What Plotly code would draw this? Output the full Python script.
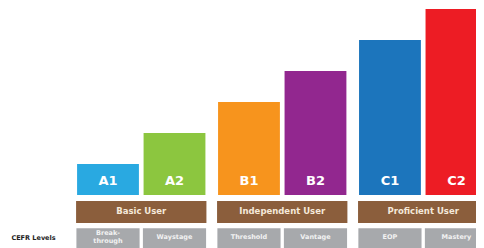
import plotly.graph_objects as go

levels = ["A1", "A2", "B1", "B2", "C1", "C2"]
values = [1, 2, 3, 4, 5, 6]
bar_colors = ["#29A9E1", "#8CC63F", "#F7941D", "#92278F", "#1C75BC", "#ED1C24"]
groups = ["Basic User", "Independent User", "Proficient User"]
stages = ["Break-<br>through", "Waystage", "Threshold", "Vantage", "EOP", "Mastery"]
axis_title = "CEFR Levels"

GAP = 0.12
xs = [i + (i // 2) * GAP for i in range(len(levels))]
gx = [(xs[2 * g] + xs[2 * g + 1]) / 2 for g in range(len(groups))]

# page body has an 8px margin; shift the visible window accordingly
OFF = 8
PX_X = 66.5
PX_Y = 31.0

fig = go.Figure()
fig.add_trace(go.Bar(x=xs, y=values, width=0.93, marker=dict(color=bar_colors, line=dict(width=0)),
                     hoverinfo="skip"))
fig.add_trace(go.Bar(x=gx, y=[0.71] * len(groups), base=-0.9, width=1.96,
                     marker=dict(color="#8B5E3C", line=dict(width=0)), hoverinfo="skip"))
fig.add_trace(go.Bar(x=xs, y=[0.75] * len(levels), base=-1.82, width=0.95,
                     marker=dict(color="#A7A9AC", line=dict(width=0)), hoverinfo="skip"))
fig.add_trace(go.Scatter(x=xs, y=[0.42] * len(levels), mode="text", text=levels,
                         textfont=dict(family="DejaVu Sans", size=13, color="white", weight="bold"),
                         hoverinfo="skip"))
fig.add_trace(go.Scatter(x=gx, y=[-0.55] * len(groups), mode="text", text=groups,
                         textfont=dict(family="DejaVu Sans", size=8.5, color="#F5E9DA", weight="bold"),
                         hoverinfo="skip"))
fig.add_trace(go.Scatter(x=xs, y=[-1.37] * len(levels), mode="text", text=stages,
                         textfont=dict(family="DejaVu Sans", size=6.5, color="#F2F2F2", weight="bold"),
                         hoverinfo="skip"))
fig.add_trace(go.Scatter(x=[-1.12], y=[-1.39], mode="text", text=[axis_title],
                         textfont=dict(family="DejaVu Sans", size=6.5, color="#222222", weight="bold"),
                         hoverinfo="skip"))

fig.update_layout(
    width=484, height=248, margin=dict(l=0, r=0, t=0, b=0),
    paper_bgcolor="white", plot_bgcolor="white", showlegend=False, barmode="overlay",
    xaxis=dict(range=[(OFF - 108) / PX_X, (OFF + 484 - 108) / PX_X], visible=False, fixedrange=True),
    yaxis=dict(range=[-1.71 - OFF / PX_Y, 6.29 - OFF / PX_Y], visible=False, fixedrange=True),
)
fig.write_html("out.html")
